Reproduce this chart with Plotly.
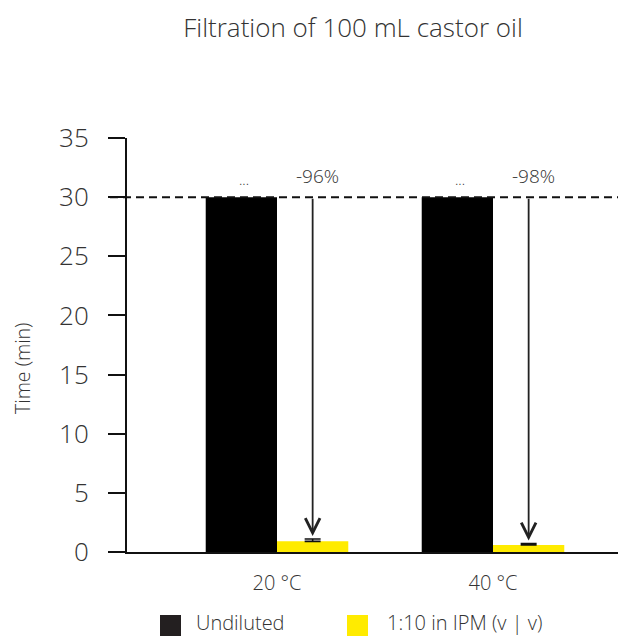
import plotly.graph_objects as go

categories = ["20 °C", "40 °C"]
undiluted = [30, 30]
diluted = [0.9, 0.6]
diluted_err_plus = [0.2, 0.12]
diluted_err_minus = [0.0, 0.0]
reductions = ["-96%", "-98%"]
truncated_marks = ["...", "..."]
series_names = ["Undiluted", "1:10 in IPM (v | v)"]
y_ticks = [0, 5, 10, 15, 20, 25, 30, 35]
y_title = "Time (min)"
cap_value = 30

BLACK = "#000000"
YELLOW = "#FFEB00"
TXT = "#333333"
FONT = "Open Sans"
WT = 300

# page has an 8px body margin; work in reference page pixels, convert to figure pixels
OFF = 8
PAGE_W, PAGE_H = 626, 636
W, H = PAGE_W - OFF, PAGE_H - OFF
PLOT_L, PLOT_R, PLOT_T, PLOT_B = 127, 626, 138, 552
ML, MR, MT, MB = PLOT_L - OFF, 0, PLOT_T - OFF, PAGE_H - PLOT_B
pw = PLOT_R - PLOT_L
ph = PLOT_B - PLOT_T


def px_x(p):
    return (p - PLOT_L) / pw


def px_y(p):
    return (PLOT_B - p) / ph


xs = list(range(len(categories)))
bw = 0.33

fig = go.Figure()
fig.add_trace(go.Bar(x=xs, y=undiluted, width=bw, offset=-bw, marker=dict(color=BLACK, line_width=0),
                     name=series_names[0], showlegend=False))
fig.add_trace(go.Bar(x=xs, y=diluted, width=bw, offset=0, marker=dict(color=YELLOW, line_width=0),
                     name=series_names[1], showlegend=False,
                     error_y=dict(type="data", symmetric=False, array=diluted_err_plus,
                                  arrayminus=diluted_err_minus, color="#111", thickness=1.6, width=8)))

# dashed cap line
fig.add_shape(type="line", xref="paper", yref="y", x0=px_x(110), x1=px_x(621),
              y0=cap_value, y1=cap_value, line=dict(color="#111", width=2, dash="8px,5px"))

for i, c in enumerate(categories):
    xc = xs[i] + bw / 2
    head = diluted[i] + diluted_err_plus[i] + 0.25
    fig.add_annotation(x=xc, y=head, ax=xc, ay=cap_value, xref="x", yref="y", axref="x", ayref="y",
                       showarrow=True, arrowhead=5, arrowsize=1.6, arrowwidth=1.8, arrowcolor="#222",
                       text="")
    fig.add_annotation(x=xc, y=cap_value + 1.8, xref="x", yref="y", text=reductions[i], showarrow=False,
                       xshift=5, font=dict(family=FONT, size=19, color=TXT, weight=WT))
    fig.add_annotation(x=xs[i] - bw / 2, y=cap_value + 1.5, xref="x", yref="y", text=truncated_marks[i],
                       showarrow=False, xshift=3, font=dict(family=FONT, size=14, color=TXT, weight=WT))

# y-axis title
fig.add_annotation(xref="paper", yref="paper", x=px_x(22), y=px_y(369), text=y_title, textangle=-90,
                   showarrow=False, xanchor="center", yanchor="middle",
                   font=dict(family=FONT, size=19.5, color=TXT, weight=WT))

# legend drawn manually
colors = ["#231f20", YELLOW]
leg_sq_x = [160, 347]
leg_txt_x = [195, 386]
for i, nm in enumerate(series_names):
    x0 = leg_sq_x[i]
    fig.add_shape(type="rect", xref="paper", yref="paper",
                  x0=px_x(x0), x1=px_x(x0 + 21), y0=px_y(615), y1=px_y(636),
                  fillcolor=colors[i], line_width=0)
    fig.add_annotation(xref="paper", yref="paper", x=px_x(leg_txt_x[i]), y=px_y(622),
                       xanchor="left", yanchor="middle", text=nm, showarrow=False, borderpad=0,
                       font=dict(family=FONT, size=20, color=TXT, weight=WT))

fig.update_layout(
    width=W, height=H, margin=dict(l=ML, r=MR, t=MT, b=MB),
    paper_bgcolor="white", plot_bgcolor="white",
    showlegend=False, barmode="overlay",
    title=dict(text="Filtration of 100 mL castor oil", x=(353 - OFF) / W, xanchor="center",
               y=1 - (28 - OFF) / H, yanchor="middle", xref="container", yref="container",
               font=dict(family=FONT, size=26, color=TXT, weight=WT)),
    font=dict(family=FONT, color=TXT),
)
fig.update_xaxes(range=[-150 / 216, 1 + 133 / 216], tickvals=xs, ticktext=categories, showline=True,
                 linecolor="#111", linewidth=2, ticks="", showgrid=False, zeroline=False,
                 tickfont=dict(family=FONT, size=20, color=TXT, weight=WT), ticklabelstandoff=12)
fig.update_yaxes(range=[0, 35], tickvals=y_ticks, showline=True, linecolor="#111", linewidth=2,
                 ticks="outside", ticklen=17, tickwidth=2, tickcolor="#111", showgrid=False, zeroline=False,
                 tickfont=dict(family=FONT, size=26, color=TXT, weight=WT), ticklabelstandoff=14)

fig.write_html("out.html")
